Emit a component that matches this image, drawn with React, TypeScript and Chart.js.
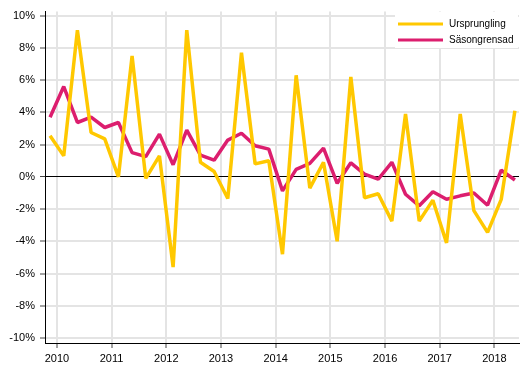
import React, { useEffect, useRef } from 'react';
import { Chart, registerables } from 'chart.js';

Chart.register(...registerables);

const quarters = [
  '2010Q1', '2010Q2', '2010Q3', '2010Q4',
  '2011Q1', '2011Q2', '2011Q3', '2011Q4',
  '2012Q1', '2012Q2', '2012Q3', '2012Q4',
  '2013Q1', '2013Q2', '2013Q3', '2013Q4',
  '2014Q1', '2014Q2', '2014Q3', '2014Q4',
  '2015Q1', '2015Q2', '2015Q3', '2015Q4',
  '2016Q1', '2016Q2', '2016Q3', '2016Q4',
  '2017Q1', '2017Q2', '2017Q3', '2017Q4',
  '2018Q1', '2018Q2', '2018Q3',
];

const ursprungling = [
  2.55, 1.3, 9.1, 2.75, 2.35, 0.0, 7.5, -0.1,
  1.3, -5.6, 9.1, 0.9, 0.33, -1.35, 7.7, 0.8,
  1.0, -4.8, 6.3, -0.7, 0.9, -4.0, 6.2, -1.3,
  -1.05, -2.75, 3.9, -2.75, -1.45, -4.1, 3.9, -2.1,
  -3.45, -1.4, 4.1,
];

const sasongrensad = [
  3.7, 5.6, 3.37, 3.7, 3.06, 3.37, 1.5, 1.25,
  2.65, 0.75, 2.9, 1.35, 1.03, 2.28, 2.7, 1.93,
  1.72, -0.87, 0.46, 0.83, 1.78, -0.4, 0.87, 0.17,
  -0.15, 0.9, -1.08, -1.8, -0.93, -1.39, -1.18, -1.0,
  -1.76, 0.41, -0.2,
];

const yearLabels = ['2010', '2011', '2012', '2013', '2014', '2015', '2016', '2017', '2018'];
const yTickValues = [-10, -8, -6, -4, -2, 0, 2, 4, 6, 8, 10];

const seriesNames = ['Ursprungling', 'Säsongrensad'];
const seriesColors = ['#ffc800', '#dc1e6e'];

const FONT = '"Liberation Sans", Arial, sans-serif';

const legendPlugin = {
  id: 'boxLegend',
  afterDraw(chart: any) {
    const ctx = chart.ctx;
    ctx.save();
    ctx.fillStyle = '#ffffff';
    ctx.fillRect(395, 12, 123, 36);
    ctx.font = `10px ${FONT}`;
    ctx.textBaseline = 'middle';
    ctx.textAlign = 'left';
    seriesNames.forEach((name, i) => {
      const y = 24 + i * 16;
      ctx.strokeStyle = seriesColors[i];
      ctx.lineWidth = 3;
      ctx.beginPath();
      ctx.moveTo(398, y);
      ctx.lineTo(443, y);
      ctx.stroke();
      ctx.fillStyle = '#000';
      ctx.fillText(name, 449, y + 0.5);
    });
    ctx.restore();
  },
};

export default function App() {
  const ref = useRef<HTMLCanvasElement | null>(null);

  useEffect(() => {
    if (!ref.current) return;
    const chart = new Chart(ref.current, {
      type: 'line',
      data: {
        labels: quarters,
        datasets: [
          {
            label: seriesNames[0],
            data: ursprungling.map((v, i) => ({ x: i, y: v })),
            borderColor: seriesColors[0],
            backgroundColor: seriesColors[0],
            borderWidth: 3.5,
            borderJoinStyle: 'bevel',
            pointRadius: 0,
            tension: 0,
          },
          {
            label: seriesNames[1],
            data: sasongrensad.map((v, i) => ({ x: i, y: v })),
            borderColor: seriesColors[1],
            backgroundColor: seriesColors[1],
            borderWidth: 3.5,
            borderJoinStyle: 'bevel',
            pointRadius: 0,
            tension: 0,
          },
        ],
      },
      options: {
        responsive: false,
        animation: false,
        layout: { padding: { top: 11, right: 10, left: 0, bottom: 0 } },
        plugins: {
          legend: { display: false },
          tooltip: { enabled: false },
        },
        scales: {
          x: {
            type: 'linear',
            min: -0.37,
            max: 34.3,
            afterBuildTicks: (axis: any) => {
              axis.ticks = yearLabels.map((_, k) => ({ value: 0.5 + 4 * k }));
            },
            afterFit: (axis: any) => {
              axis.height = 35;
            },
            ticks: {
              callback: (_v: any, index: number) => yearLabels[index],
              font: { family: FONT, size: 11 },
              color: '#000',
              padding: 4,
              maxRotation: 0,
              autoSkip: false,
            },
            grid: {
              color: '#e4e4e4',
              lineWidth: 2,
              tickLength: 5,
              tickColor: '#444',
              tickWidth: 1,
            },
            border: { color: '#000', width: 1 },
          },
          y: {
            type: 'linear',
            min: -10.31,
            max: 10.25,
            afterBuildTicks: (axis: any) => {
              axis.ticks = yTickValues.map((v) => ({ value: v }));
            },
            afterFit: (axis: any) => {
              axis.width = 45;
            },
            ticks: {
              callback: (v: any) => `${v}%`,
              font: { family: FONT, size: 11 },
              color: '#000',
              padding: 5,
            },
            grid: {
              color: (c: any) => (c.tick && c.tick.value === 0 ? '#000' : '#e4e4e4'),
              lineWidth: (c: any) => (c.tick && c.tick.value === 0 ? 1 : 2),
              tickLength: 5,
              tickColor: '#444',
              tickWidth: 1,
            },
            border: { color: '#000', width: 1 },
          },
        },
      },
      plugins: [legendPlugin],
    } as any);
    return () => chart.destroy();
  }, []);

  return (
    <div style={{ position: 'fixed', left: 0, top: 0, width: 529, height: 378, background: '#fff' }}>
      <canvas ref={ref} width={529} height={378} style={{ display: 'block' }} />
    </div>
  );
}
